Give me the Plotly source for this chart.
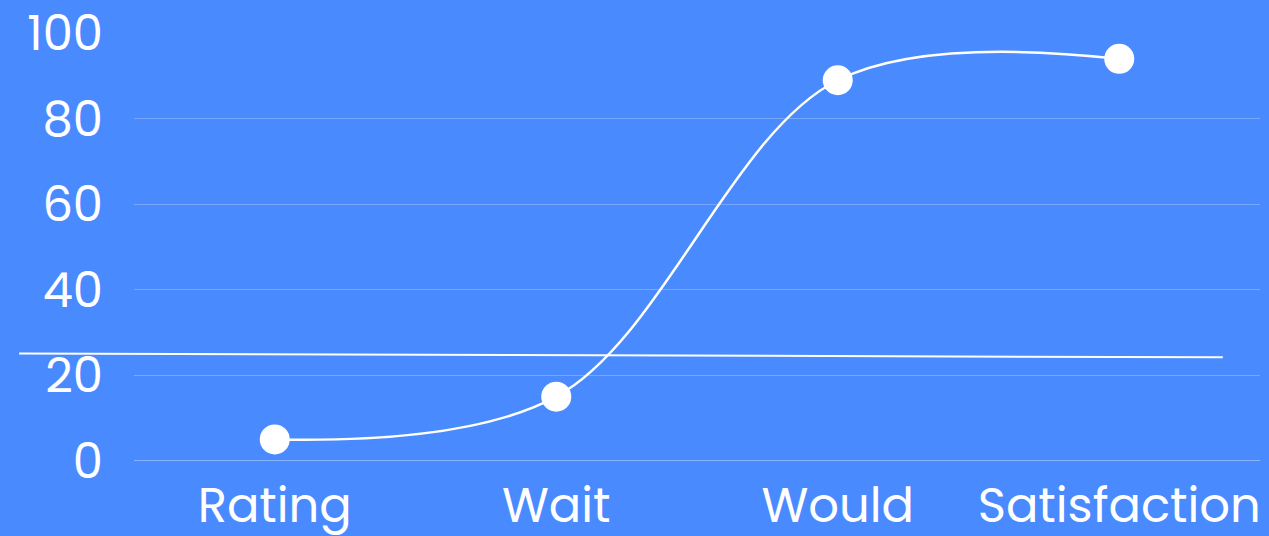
import plotly.graph_objects as go

categories = ["Rating", "Wait", "Would", "Satisfaction"]
values = [5, 15, 89, 94]
y_ticks = [0, 20, 40, 60, 80, 100]

# reference line (slightly slanted), in data/paper units
ref_x = [-0.102, 0.967]
ref_y = [25.1, 24.2]

BG = "#4A8AFF"
FONT = "Poppins, Lato, 'Open Sans', sans-serif"

fig = go.Figure()
fig.add_trace(go.Scatter(
    x=categories, y=values, mode="lines+markers",
    line=dict(color="white", width=2.5, shape="spline", smoothing=1),
    marker=dict(color="white", size=30),
    cliponaxis=False, showlegend=False,
))

fig.add_shape(type="line", xref="paper", yref="y",
              x0=ref_x[0], x1=ref_x[1], y0=ref_y[0], y1=ref_y[1],
              line=dict(color="white", width=2))

fig.update_layout(
    width=1269, height=536,
    margin=dict(l=134, r=9, t=33, b=75, autoexpand=False),
    paper_bgcolor=BG, plot_bgcolor=BG,
    font=dict(family=FONT, color="white", size=48),
    xaxis=dict(range=[-0.5, 3.5], showgrid=False, zeroline=False, showline=False,
               automargin=False, ticks="", tickfont=dict(size=48),
               ticklabelstandoff=12),
    yaxis=dict(range=[-0.05, 100.05], tickvals=y_ticks, showgrid=True, automargin=False,
               gridcolor="rgba(255,255,255,0.25)", gridwidth=1,
               zeroline=True, zerolinecolor="rgba(255,255,255,0.35)", zerolinewidth=1,
               showline=False, ticks="", tickfont=dict(size=48),
               ticklabelstandoff=30),
)

fig.write_html("out.html", config={"displayModeBar": False},
               post_script="document.body.style.margin='0';")
